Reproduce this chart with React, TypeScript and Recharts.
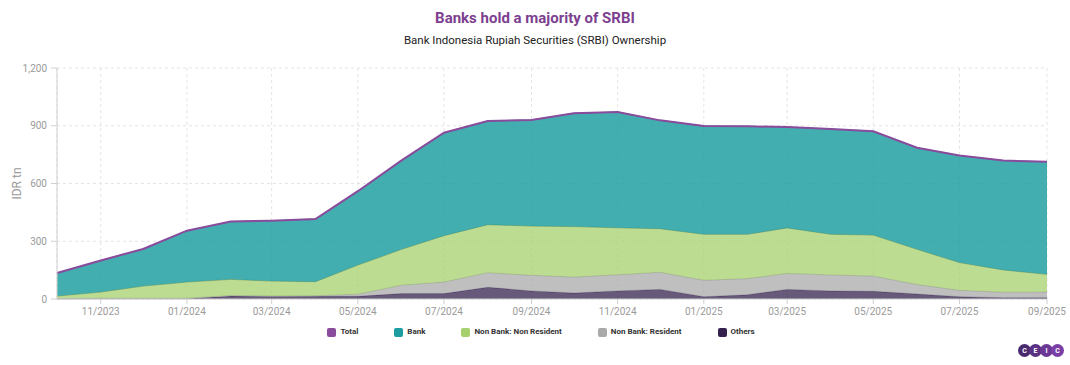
import { ComposedChart, Area, Line, XAxis, YAxis, CartesianGrid } from 'recharts'

// months shown on the chart (first of month)
const months = [
  '2023-10', '2023-11', '2023-12', '2024-01', '2024-02', '2024-03', '2024-04', '2024-05',
  '2024-06', '2024-07', '2024-08', '2024-09', '2024-10', '2024-11', '2024-12', '2025-01',
  '2025-02', '2025-03', '2025-04', '2025-05', '2025-06', '2025-07', '2025-08', '2025-09',
]

// IDR tn
const total = [135, 200, 260, 355, 402, 407, 415, 560, 720, 864, 925, 930, 965, 971, 928, 899, 897, 893, 883, 871, 786, 745, 719, 713]
const bank = [120, 164, 193, 267, 300, 314, 325, 384, 462, 535, 539, 551, 589, 601, 563, 563, 561, 524, 547, 539, 528, 556, 568, 585]
const nonBankNonResident = [12, 32, 63, 84, 84, 77, 73, 151, 186, 241, 249, 256, 262, 244, 226, 239, 230, 236, 211, 213, 183, 144, 116, 92]
const nonBankResident = [2, 2, 2, 2, 3, 3, 3, 11, 44, 60, 76, 81, 83, 84, 89, 85, 84, 83, 83, 79, 49, 33, 28, 29]
const others = [1, 2, 2, 2, 15, 13, 14, 14, 28, 28, 61, 42, 31, 42, 50, 12, 22, 50, 42, 40, 26, 12, 7, 7]

const xTickMonths = ['2023-11', '2024-01', '2024-03', '2024-05', '2024-07', '2024-09', '2024-11', '2025-01', '2025-03', '2025-05', '2025-07', '2025-09']
const yTicks = [0, 300, 600, 900, 1200]

const toTime = (m: string) => {
  const [y, mo] = m.split('-').map(Number)
  return Date.UTC(y, mo - 1, 1)
}

const data = months.map((m, i) => ({
  t: toTime(m),
  total: total[i],
  bank: bank[i],
  nbnr: nonBankNonResident[i],
  nbr: nonBankResident[i],
  others: others[i],
}))

const COLORS = {
  total: '#8a4b9c',
  bank: '#1d9d9f',
  nbnr: '#a6d06d',
  nbr: '#a9a9a9',
  others: '#34214e',
}

const legendItems = [
  { name: 'Total', color: COLORS.total },
  { name: 'Bank', color: COLORS.bank },
  { name: 'Non Bank: Non Resident', color: COLORS.nbnr },
  { name: 'Non Bank: Resident', color: COLORS.nbr },
  { name: 'Others', color: COLORS.others },
]

const fmtMonth = (t: number) => {
  const d = new Date(t)
  const mm = String(d.getUTCMonth() + 1).padStart(2, '0')
  return `${mm}/${d.getUTCFullYear()}`
}

const font = 'Roboto, "Noto Sans", sans-serif'

function Logo() {
  const letters = ['C', 'E', 'I', 'C']
  const shades = ['#4a2a6e', '#5b3184', '#6b3896', '#7a3fa6']
  return (
    <div style={{ position: 'absolute', left: 1018, top: 344, display: 'flex' }}>
      {letters.map((l, i) => (
        <div
          key={i}
          style={{
            width: 13, height: 13, borderRadius: '50%', background: shades[i],
            marginLeft: i === 0 ? 0 : -2, color: '#fff', fontSize: 7, fontWeight: 700,
            display: 'flex', alignItems: 'center', justifyContent: 'center', fontFamily: font,
          }}
        >
          {l}
        </div>
      ))}
    </div>
  )
}

export default function App() {
  return (
    <div style={{ position: 'absolute', left: 0, top: 0, width: 1070, height: 365, background: '#fff', fontFamily: font }}>
      <div style={{ position: 'absolute', top: 9, width: 1070, textAlign: 'center', color: '#7d3f8f', fontSize: 15, fontWeight: 700 }}>
        Banks hold a majority of SRBI
      </div>
      <div style={{ position: 'absolute', top: 33, width: 1070, textAlign: 'center', color: '#222', fontSize: 11.5 }}>
        Bank Indonesia Rupiah Securities (SRBI) Ownership
      </div>

      <ComposedChart width={1070} height={365} data={data} margin={{ top: 68, right: 23, bottom: 36, left: 0 }}>
        <CartesianGrid strokeDasharray="3 3" stroke="#e4e4e4" />
        <XAxis
          dataKey="t"
          type="number"
          domain={['dataMin', 'dataMax']}
          ticks={xTickMonths.map(toTime)}
          tickFormatter={fmtMonth}
          height={30}
          tick={{ fill: '#9a9a9a', fontSize: 10 }}
          tickLine={{ stroke: '#d0d0d0' }}
          tickSize={5}
          axisLine={{ stroke: '#d0d0d0' }}
          tickMargin={4}
        />
        <YAxis
          width={57}
          domain={[0, 1200]}
          ticks={yTicks}
          tickFormatter={(v: number) => v.toLocaleString('en-US')}
          tick={{ fill: '#9a9a9a', fontSize: 10 }}
          tickLine={{ stroke: '#d0d0d0' }}
          axisLine={{ stroke: '#d0d0d0' }}
          tickSize={6}
          tickMargin={4}
          label={{ value: 'IDR tn', angle: -90, position: 'insideLeft', offset: 17, style: { textAnchor: 'middle', fill: '#9a9a9a', fontSize: 12 } }}
        />
        <Area type="linear" dataKey="others" stackId="1" stroke={COLORS.others} strokeOpacity={0.6} fill={COLORS.others} fillOpacity={0.75} isAnimationActive={false} />
        <Area type="linear" dataKey="nbr" stackId="1" stroke={COLORS.nbr} strokeWidth={1} fill={COLORS.nbr} fillOpacity={0.75} isAnimationActive={false} />
        <Area type="linear" dataKey="nbnr" stackId="1" stroke="#8fae72" strokeWidth={1} fill={COLORS.nbnr} fillOpacity={0.75} isAnimationActive={false} />
        <Area type="linear" dataKey="bank" stackId="1" stroke={COLORS.bank} strokeWidth={1} fill={COLORS.bank} fillOpacity={0.83} isAnimationActive={false} />
        <Line type="linear" dataKey="total" stroke={COLORS.total} strokeWidth={2} dot={false} isAnimationActive={false} />
      </ComposedChart>

      <div style={{ position: 'absolute', top: 327, left: 0, width: 1070, display: 'flex', justifyContent: 'center', gap: 36, paddingLeft: 12, boxSizing: 'border-box' }}>
        {legendItems.map((it) => (
          <div key={it.name} style={{ display: 'flex', alignItems: 'center', fontSize: 8, fontWeight: 700, color: '#333', lineHeight: '10px' }}>
            <span style={{ display: 'inline-block', width: 9, height: 9, borderRadius: 2, background: it.color, marginRight: 4 }} />
            {it.name}
          </div>
        ))}
      </div>

      <Logo />
    </div>
  )
}
